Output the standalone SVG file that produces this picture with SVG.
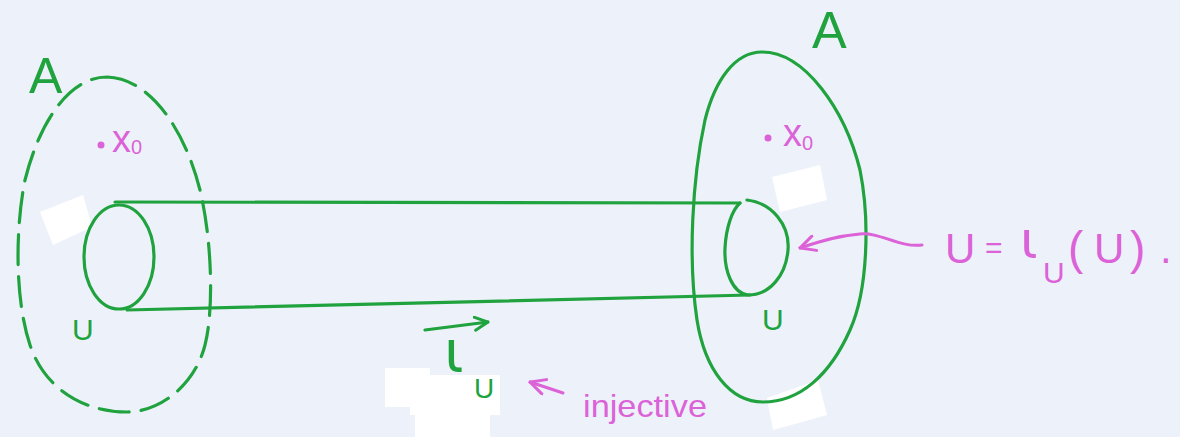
<svg xmlns="http://www.w3.org/2000/svg" width="1180" height="437" viewBox="0 0 1180 437">
<defs>
<style>
.g{fill:none;stroke:#20a33e;stroke-width:3.2;stroke-linecap:round;stroke-linejoin:round}
.m{fill:none;stroke:#dc62d8;stroke-width:3;stroke-linecap:round;stroke-linejoin:round}
.gt{fill:#20a33e;font-family:"Liberation Sans",Arial,sans-serif}
.mt{fill:#dc62d8;font-family:"Liberation Sans",Arial,sans-serif}
.iota{font-family:"DejaVu Sans",sans-serif}
.patch{fill:#ffffff}
</style>
<marker id="hg" viewBox="0 0 12 12" refX="11" refY="6" markerWidth="16" markerHeight="16" markerUnits="userSpaceOnUse" orient="auto">
<path d="M1,1 L11,6 L1,11" fill="none" stroke="#20a33e" stroke-width="2.2" stroke-linecap="round"/>
</marker>
<marker id="hm" viewBox="0 0 12 12" refX="11" refY="6" markerWidth="18" markerHeight="18" markerUnits="userSpaceOnUse" orient="auto">
<path d="M1,1 L11,6 L1,11" fill="none" stroke="#dc62d8" stroke-width="2" stroke-linecap="round"/>
</marker>
</defs>
<rect width="1180" height="437" fill="#edf2fa"/>
<g id="patches">
<polygon class="patch" points="40,212 83,195 92,227 53,245"/>
<polygon class="patch" points="772,177 820,165 827,200 780,212"/>
<polygon class="patch" points="767,398 818,380 827,415 773,430"/>
<rect class="patch" x="385" y="368" width="45" height="39"/>
<rect class="patch" x="410" y="375" width="90" height="40"/>
<rect class="patch" x="415" y="413" width="75" height="24"/>
</g>
<g id="left-set">
<path class="g" stroke-dasharray="30 12" d="M107,77 C150,78 185,130 200,190 C212,240 214,310 205,345 C195,385 160,412 127,412 C85,412 45,390 30,345 C15,300 15,230 25,180 C40,120 70,77 107,77 Z"/>
<text class="gt" x="29" y="93" font-size="50">A</text>
<circle cx="101" cy="145" r="3.5" fill="#dc62d8"/>
<text class="mt" x="112" y="152" font-size="38">x<tspan font-size="20" dy="2">0</tspan></text>
</g>
<g id="left-U">
<ellipse class="g" cx="119" cy="257" rx="35" ry="52"/>
<text class="gt" x="72" y="340" font-size="30">U</text>
</g>
<g id="right-set">
<path class="g" d="M762,52 C805,52 845,110 860,170 C870,220 868,290 850,330 C830,375 800,402 763,402 C730,402 705,370 697,320 C688,260 692,180 705,120 C715,80 735,52 762,52 Z"/>
<text class="gt" x="812" y="48" font-size="52">A</text>
<circle cx="768" cy="138" r="3.5" fill="#dc62d8"/>
<text class="mt" x="783" y="146" font-size="38">x<tspan font-size="20" dy="4">0</tspan></text>
</g>
<g id="right-U">
<path class="g" d="M747,200 C772,203 790,225 788,250 C786,275 770,295 748,295 C732,293 724,270 725,248 C726,228 732,210 740,203"/>
<text class="gt" x="762" y="330" font-size="30">U</text>
</g>
<g id="connectors">
<path class="g" d="M115,202 L740,203"/>
<path class="g" d="M127,310 L750,295"/>
<path class="g" d="M425,330 L488,322" marker-end="url(#hg)"/>
<path class="m" d="M922,245 C900,248 880,232 860,234 C835,236 815,243 800,248" marker-end="url(#hm)"/>
<path class="m" d="M563,393 L530,382" marker-end="url(#hm)"/>
</g>
<g id="labels">
<text class="gt iota" x="444" y="372" font-size="58">ι</text>
<text class="gt" x="474" y="398" font-size="28">U</text>
<text class="mt" x="945" y="263" font-size="42">U</text>
<text class="mt" x="985" y="258" font-size="30">=</text>
<text class="mt iota" x="1020" y="258" font-size="52">ι</text>
<text class="mt" x="1043" y="283" font-size="30">U</text>
<text class="mt" x="1068" y="264" font-size="46">(</text>
<text class="mt" x="1094" y="263" font-size="42">U</text>
<text class="mt" x="1130" y="264" font-size="46">)</text>
<text class="mt" x="1160" y="263" font-size="42">.</text>
<text class="mt" x="583" y="417" font-size="32" textLength="124" lengthAdjust="spacingAndGlyphs">injective</text>
</g>
</svg>
